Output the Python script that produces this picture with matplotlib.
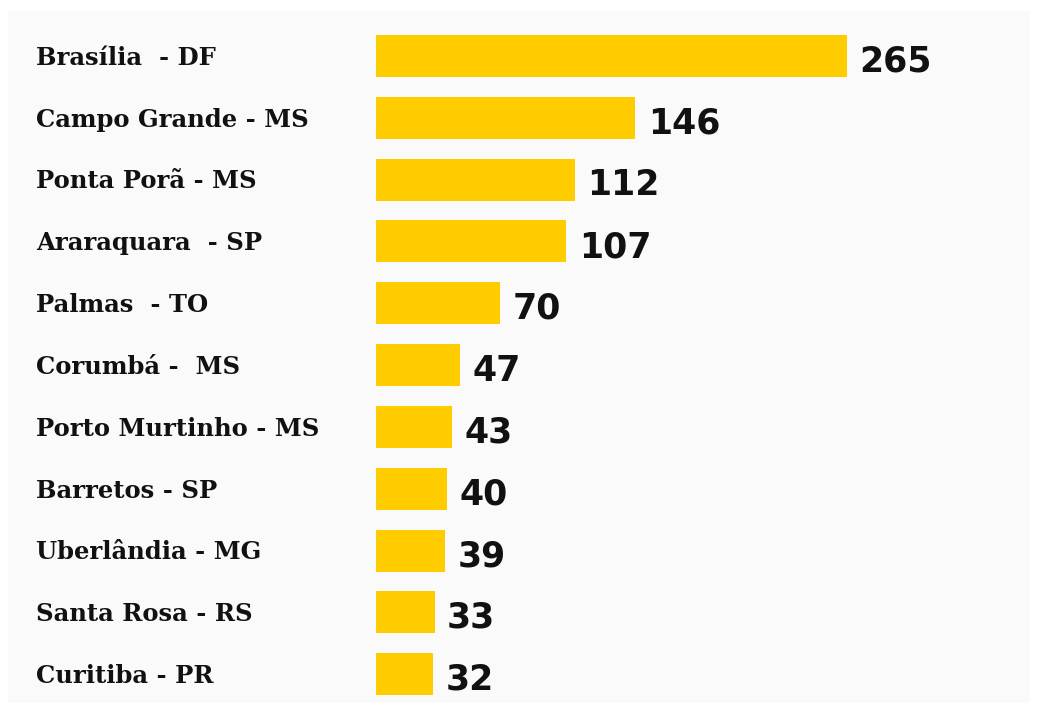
import matplotlib.pyplot as plt
from matplotlib.patches import Rectangle
from matplotlib.transforms import blended_transform_factory

cities = ['Brasília  - DF', 'Campo Grande - MS', 'Ponta Porã - MS', 'Araraquara  - SP',
          'Palmas  - TO', 'Corumbá -  MS', 'Porto Murtinho - MS', 'Barretos - SP',
          'Uberlândia - MG', 'Santa Rosa - RS', 'Curitiba - PR']
values = [265, 146, 112, 107, 70, 47, 43, 40, 39, 33, 32]

W, H = 1039, 714
fig = plt.figure(figsize=(W / 100, H / 100), dpi=100)
fig.patch.set_facecolor('white')

# light grey panel behind everything
fig.add_artist(Rectangle((8 / W, 1 - 703 / H), (1030 - 8) / W, (703 - 11) / H,
                         transform=fig.transFigure, facecolor='#fafafa',
                         edgecolor='none', zorder=0))

ax = fig.add_axes([376 / W, 1 - 703 / H, (1030 - 376) / W, (703 - 11) / H])
ax.set_facecolor('none')

y = list(range(len(values)))
ax.barh(y, values, height=0.68, color='#ffcc00')
ax.set_xlim(0, (1030 - 376) / (471 / 265))
ax.set_ylim(10.466, -0.728)
ax.axis('off')

lab_tr = blended_transform_factory(fig.transFigure, ax.transData)
for i, (c, v) in enumerate(zip(cities, values)):
    ax.text(36 / W, i + 0.03, c, transform=lab_tr, ha='left', va='center',
            fontsize=17.5, fontweight='bold', family='DejaVu Serif', color='#111111')
    ax.annotate(str(v), (v, i), xytext=(9, -4), textcoords='offset points',
                ha='left', va='center', fontsize=25, fontweight='bold',
                family='DejaVu Sans', color='#111111')

plt.savefig('out.png', dpi=100)
